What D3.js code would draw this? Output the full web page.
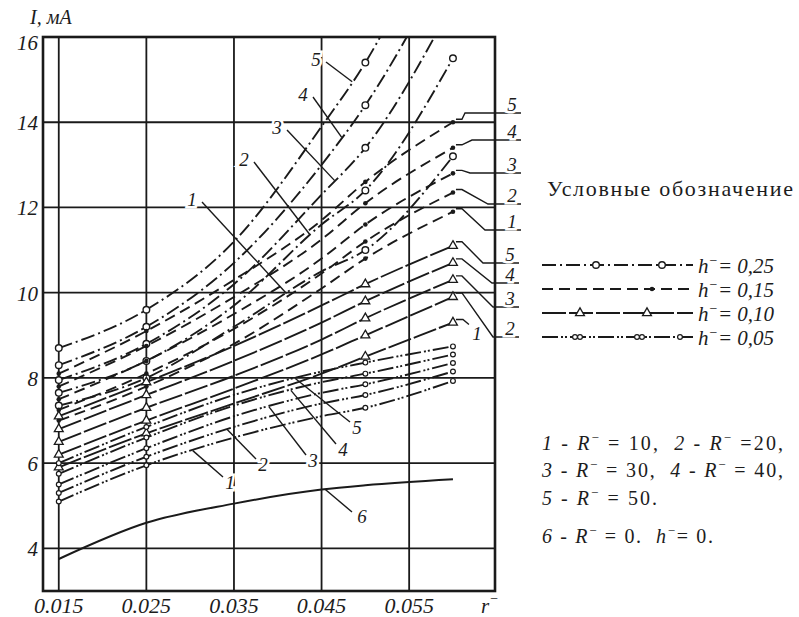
<!DOCTYPE html>
<html>
<head>
<meta charset="utf-8">
<script src="https://cdn.jsdelivr.net/npm/d3@7"></script>
<style>
body { margin: 0; background: #fff; }
svg { font-family: "Liberation Serif", "Times New Roman", Times, "DejaVu Serif", "Noto Serif", serif; }
text { fill: #1c1c1c; }
</style>
</head>
<body>
<div id="chart"></div>
<script>
// x values where the curves were measured
var xNodes = [0.015, 0.025, 0.035, 0.045, 0.05, 0.06];
var markIdx = [0, 1, 4, 5];
var rNames = ["1", "2", "3", "4", "5"];
var hNames = ["0,25", "0,15", "0,10", "0,05"];

// I, mA  -- rows are R- = 10, 20, 30, 40, 50
var h25 = [
  [7.35, 8.0, 9.2, 10.5, 11.0, 13.2],
  [7.65, 8.4, 9.7, 11.6, 12.4, 15.5],
  [7.95, 8.8, 10.2, 12.3, 13.4, 16.8],
  [8.3, 9.2, 10.7, 13.0, 14.4, 18.0],
  [8.7, 9.6, 11.2, 13.9, 15.4, 19.5]
];
var h15 = [
  [7.0, 7.8, 8.8, 10.1, 10.8, 11.9],
  [7.25, 8.1, 9.15, 10.45, 11.2, 12.35],
  [7.5, 8.4, 9.5, 10.8, 11.6, 12.8],
  [7.8, 8.75, 9.9, 11.25, 12.1, 13.4],
  [8.1, 9.1, 10.3, 11.7, 12.6, 14.0]
];
var h10 = [
  [5.9, 6.7, 7.4, 8.1, 8.5, 9.3],
  [6.2, 7.0, 7.75, 8.55, 9.0, 9.9],
  [6.5, 7.3, 8.05, 8.9, 9.4, 10.3],
  [6.8, 7.6, 8.4, 9.3, 9.8, 10.7],
  [7.1, 7.9, 8.75, 9.7, 10.2, 11.1]
];
var h05 = [
  [5.1, 5.95, 6.6, 7.1, 7.3, 7.93],
  [5.3, 6.15, 6.85, 7.4, 7.6, 8.15],
  [5.5, 6.35, 7.1, 7.65, 7.85, 8.35],
  [5.75, 6.6, 7.35, 7.9, 8.1, 8.55],
  [6.0, 6.85, 7.6, 8.15, 8.36, 8.74]
];
var curve6 = [3.75, 4.6, 5.05, 5.38, 5.48, 5.62];

var xTicks = [0.015, 0.025, 0.035, 0.045, 0.055];
var yTicks = [4, 6, 8, 10, 12, 14, 16];

var W = 799, H = 617;
var plot = {left: 43, right: 495, top: 37, bottom: 591};

var svg = d3.select("#chart").append("svg")
  .attr("width", W).attr("height", H);

var x = d3.scaleLinear().domain([0.0132, 0.0648]).range([plot.left, plot.right]);
var y = d3.scaleLinear().domain([3, 16]).range([plot.bottom, plot.top]);

var ink = "#1a1a1a";

svg.append("clipPath").attr("id", "clip")
  .append("rect")
  .attr("x", plot.left).attr("y", plot.top)
  .attr("width", plot.right - plot.left).attr("height", plot.bottom - plot.top);

// grid
var grid = svg.append("g");
grid.selectAll("line.gx").data(xTicks).enter().append("line")
  .attr("x1", d => x(d)).attr("x2", d => x(d))
  .attr("y1", plot.top).attr("y2", plot.bottom)
  .attr("stroke", ink).attr("stroke-width", 1.8);
grid.selectAll("line.gy").data(yTicks.filter(d => d < 16)).enter().append("line")
  .attr("x1", plot.left).attr("x2", plot.right)
  .attr("y1", d => y(d)).attr("y2", d => y(d))
  .attr("stroke", ink).attr("stroke-width", 1.8);
grid.append("rect")
  .attr("x", plot.left).attr("y", plot.top)
  .attr("width", plot.right - plot.left).attr("height", plot.bottom - plot.top)
  .attr("fill", "none").attr("stroke", ink).attr("stroke-width", 2.6);

// families of curves
var families = [
  {name: hNames[0], data: h25, dash: "14,4,2,4", mark: "circle"},
  {name: hNames[1], data: h15, dash: "11,6", mark: "dot"},
  {name: hNames[2], data: h10, dash: "24,3", mark: "tri"},
  {name: hNames[3], data: h05, dash: "16,3,2,2,2,3", mark: "small"}
];

var line = d3.line()
  .x((d, i) => x(xNodes[i]))
  .y(d => y(d))
  .curve(d3.curveMonotoneX);

var curves = svg.append("g").attr("clip-path", "url(#clip)");

function drawMark(g, type, px, py) {
  if (type == "circle") {
    g.append("circle").attr("cx", px).attr("cy", py).attr("r", 3.3)
      .attr("fill", "#fff").attr("stroke", ink).attr("stroke-width", 1.4);
  } else if (type == "dot") {
    g.append("circle").attr("cx", px).attr("cy", py).attr("r", 2.3).attr("fill", ink);
  } else if (type == "tri") {
    g.append("path").attr("d", d3.symbol(d3.symbolTriangle, 34)())
      .attr("transform", "translate(" + px + "," + py + ")")
      .attr("fill", "#fff").attr("stroke", ink).attr("stroke-width", 1.3);
  } else {
    g.append("circle").attr("cx", px).attr("cy", py).attr("r", 2.4)
      .attr("fill", "#fff").attr("stroke", ink).attr("stroke-width", 1.2);
  }
}

families.forEach(function(f) {
  f.data.forEach(function(vals) {
    curves.append("path")
      .attr("d", line(vals))
      .attr("fill", "none")
      .attr("stroke", ink)
      .attr("stroke-width", 1.9)
      .attr("stroke-dasharray", f.dash);
    markIdx.forEach(function(i) {
      drawMark(curves, f.mark, x(xNodes[i]), y(vals[i]));
    });
  });
});

curves.append("path")
  .attr("d", line(curve6))
  .attr("fill", "none").attr("stroke", ink).attr("stroke-width", 2);

// value of a curve at any x (piecewise through the nodes)
function at(vals, xv) {
  return d3.scaleLinear().domain(xNodes).range(vals)(xv);
}

var lbl = svg.append("g")
  .attr("font-style", "italic").attr("font-size", 19);

function label(txt, px, py) {
  lbl.append("text").attr("x", px).attr("y", py)
    .attr("text-anchor", "middle")
    .attr("stroke", "#fff").attr("stroke-width", 5).attr("paint-order", "stroke")
    .text(txt);
}
function leader(pts) {
  lbl.append("path").attr("d", d3.line()(pts))
    .attr("fill", "none").attr("stroke", ink).attr("stroke-width", 1.4);
}

// h = 0.25 labels (upper left, pointing down-right)
var h25Lab = [[192, 206, 0.0410], [244, 166, 0.0437], [277, 134, 0.0465], [303, 101, 0.0473], [316, 66, 0.0485]];
h25Lab.forEach(function(p, i) {
  var tx = x(p[2]), ty = y(at(h25[i], p[2]));
  leader([[p[0] + 10, p[1] - 4], [tx, ty]]);
  label(rNames[i], p[0], p[1]);
});

// h = 0.15 labels (right, upper group) and h = 0.10 (right, lower group)
var xEnd = x(0.06);
var upper = [[230, 485], [204, 488], [173, 470], [140, 472], [113, 465]];
var lower = [[null, null], [337, 493], [307, 493], [283, 492], [263, 483]];
upper.forEach(function(p, i) {
  var ey = y(h15[i][5]);
  leader([[xEnd + 3, ey - 3], [xEnd + 9, ey - 3], [p[1], p[0]], [521, p[0]]]);
  label(rNames[i], 512, p[0] - 2);
});
lower.forEach(function(p, i) {
  var ey = y(h10[i][5]);
  if (p[0] == null) {
    leader([[xEnd + 3, ey - 3], [xEnd + 10, ey - 3], [xEnd + 16, ey + 2]]);
    label(rNames[i], 477, ey + 17);
  } else {
    leader([[xEnd + 3, ey - 4], [xEnd + 9, ey - 4], [p[1], p[0]], [519, p[0]]]);
    label(rNames[i], 510, p[0] - 2);
  }
});

// h = 0.05 labels (bottom, pointing up-left)
var h05Lab = [[230, 489, 0.0303], [263, 471, 0.0342], [313, 467, 0.0390], [343, 456, 0.0415], [357, 434, 0.0420]];
h05Lab.forEach(function(p, i) {
  var tx = x(p[2]), ty = y(at(h05[i], p[2]));
  leader([[p[0] - 7, p[1] - 12], [tx, ty]]);
  label(rNames[i], p[0], p[1]);
});

// curve 6 label
leader([[x(0.0454), y(at(curve6, 0.0454))], [352, 512]]);
label("6", 362, 523);

// axis tick labels
var axt = svg.append("g").attr("font-style", "italic").attr("font-size", 21);
axt.selectAll("text.y").data(yTicks).enter().append("text")
  .attr("x", 38).attr("y", d => y(d) + (d == 16 ? 13 : 8))
  .attr("text-anchor", "end")
  .text(d => d);
axt.selectAll("text.x").data(xTicks).enter().append("text")
  .attr("x", d => x(d)).attr("y", 613)
  .attr("text-anchor", "middle")
  .attr("font-size", 22)
  .text(d => d.toFixed(3));

svg.append("text").attr("x", 30).attr("y", 24)
  .attr("font-style", "italic").attr("font-size", 20)
  .text("I, мА");
var rt = svg.append("text").attr("x", 481).attr("y", 613)
  .attr("font-style", "italic").attr("font-size", 21);
rt.append("tspan").text("r");
rt.append("tspan").attr("dy", -10).attr("font-size", 14).text("−");

// legend
svg.append("text").attr("x", 547).attr("y", 196)
  .attr("font-size", 22)
  .attr("textLength", 246).attr("lengthAdjust", "spacing")
  .text("Условные обозначение");

var legRows = [265, 289, 313, 337];
var legMarks = [[596, 662], [652], [580, 647], [575, 580, 637, 642, 680]];
var leg = svg.append("g");
families.forEach(function(f, i) {
  var ly = legRows[i];
  leg.append("line")
    .attr("x1", 542).attr("x2", 693).attr("y1", ly).attr("y2", ly)
    .attr("stroke", ink).attr("stroke-width", 1.9)
    .attr("stroke-dasharray", f.dash);
  legMarks[i].forEach(function(mx) { drawMark(leg, f.mark, mx, ly); });
  var t = leg.append("text").attr("x", 698).attr("y", ly + 8)
    .attr("font-style", "italic").attr("font-size", 21);
  t.append("tspan").text("h");
  t.append("tspan").attr("dy", -8).attr("font-size", 14).text("−");
  t.append("tspan").attr("dy", 8).text("= " + f.name);
});

// notes on R- values
var notes = [
  [["1", " - ", "R", "−", " = 10,  "], ["2", " - ", "R", "−", " =20,"]],
  [["3", " - ", "R", "−", " = 30,  "], ["4", " - ", "R", "−", " = 40,"]],
  [["5", " - ", "R", "−", " = 50."]],
  [["6", " - ", "R", "−", " = 0.  "], ["h", "", "", "−", "= 0."]]
];
var noteY = [450, 477, 505, 543];
var noteLen = [241, 241, 115, 171];
notes.forEach(function(row, r) {
  var t = svg.append("text").attr("x", 542).attr("y", noteY[r]).attr("font-size", 20)
    .attr("xml:space", "preserve")
    .attr("textLength", noteLen[r]).attr("lengthAdjust", "spacing");
  row.forEach(function(part) {
    t.append("tspan").attr("font-style", "italic").text(part[0]);
    t.append("tspan").text(part[1]);
    t.append("tspan").attr("font-style", "italic").text(part[2]);
    t.append("tspan").attr("dy", -8).attr("font-size", 13).text(part[3]);
    t.append("tspan").attr("dy", 8).text(part[4]);
  });
});
</script>
</body>
</html>
